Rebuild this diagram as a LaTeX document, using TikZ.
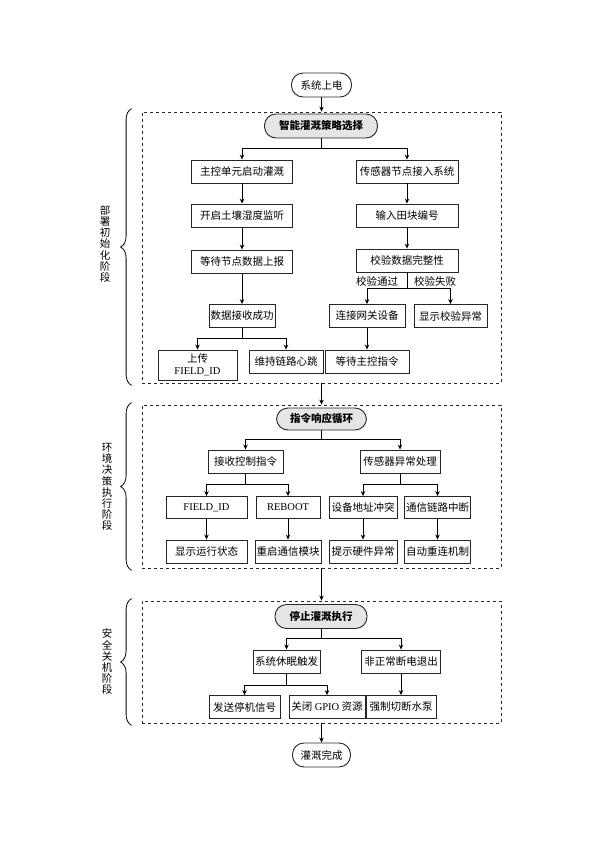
\documentclass[tikz,border=0pt]{standalone}
\usepackage{fontspec}
\setmainfont{Liberation Serif}
\newfontfamily\cjk{Noto Sans CJK SC}
\usetikzlibrary{arrows.meta,decorations.pathreplacing}
\newcommand{\lat}[1]{{\rmfamily #1}}

\begin{document}
\begin{tikzpicture}[x=1pt, y=-1pt, >={Stealth[length=5pt,width=4.5pt]}, font=\cjk\fontsize{10.5}{12}\selectfont]
    \tikzstyle{proc}=[draw=black!85, line width=0.9pt, rectangle, minimum height=23pt, inner xsep=1.5pt, align=center];
    \tikzstyle{term}=[draw=black!85, line width=0.9pt, rounded corners=11.5pt, minimum height=24pt, inner xsep=8pt];
    \tikzstyle{hub}=[term, fill=black!10, font=\cjk\bfseries\fontsize{10.5}{12}\selectfont];
    \tikzstyle{phase}=[draw=black!85, dashed, line width=0.8pt, rectangle];
    \tikzstyle{stage}=[align=center, font=\cjk\fontsize{10.5}{11.2}\selectfont];
    \tikzstyle{flow}=[draw, line width=0.8pt, ->];
    \tikzstyle{bracket}=[line width=0.8pt, decorate, decoration={brace, amplitude=11pt}];

    \useasboundingbox (0,0) rectangle (594,841);

    % deployment / init phase
    \node[term, minimum width=60] (power_on) at (321.5,85) {系统上电};
    \node[phase, minimum width=359, minimum height=271] (init_phase) at (321.5,247.5) {};
    \node[hub, minimum width=113] (strategy) at (321,126) {智能灌溉策略选择};
    \node[proc, minimum width=101] (main_start) at (242,171.5) {主控单元启动灌溉};
    \node[proc, minimum width=102] (sensor_join) at (407,171.5) {传感器节点接入系统};
    \node[proc, minimum width=101] (soil_listen) at (242,215.5) {开启土壤湿度监听};
    \node[proc, minimum width=102] (field_no) at (407,215.5) {输入田块编号};
    \node[proc, minimum width=101] (wait_report) at (242,261.5) {等待节点数据上报};
    \node[proc, minimum width=102] (check_data) at (407,260.5) {校验数据完整性};
    \node (pass_lbl) at (377,281.5) {校验通过};
    \node (fail_lbl) at (435,281.5) {校验失败};
    \node[proc, minimum width=66] (recv_ok) at (242,316) {数据接收成功};
    \node[proc, minimum width=76] (gateway) at (367,316) {连接网关设备};
    \node[proc, minimum width=73] (check_err) at (450.5,316) {显示校验异常};
    \node[proc, minimum width=79, minimum height=30] (upload) at (197.5,365) {上传\\\lat{FIELD\_ID}};
    \node[proc, minimum width=74] (heartbeat) at (286,361.5) {维持链路心跳};
    \node[proc, minimum width=84] (wait_cmd) at (367,361.5) {等待主控指令};

    \coordinate (br_a) at (0,148);
    \coordinate (br_b) at (0,288);
    \coordinate (br_c) at (0,338);

    \draw[flow] (power_on) -- (power_on |- init_phase.north);
    \draw[flow] (strategy.south) -- (strategy |- br_a) -| (main_start.north);
    \draw[flow] (strategy |- br_a) -| (sensor_join.north);
    \draw[flow] (main_start) -- (soil_listen);
    \draw[flow] (soil_listen) -- (wait_report);
    \draw[flow] (wait_report) -- (recv_ok);
    \draw[flow] (sensor_join) -- (field_no);
    \draw[flow] (field_no) -- (check_data);
    \draw[flow] (check_data.south) -- (check_data |- br_b) -| (gateway.north);
    \draw[flow] (check_data |- br_b) -| (check_err.north);
    \draw[flow] (recv_ok.south) -- (recv_ok |- br_c) -| (upload.north);
    \draw[flow] (recv_ok |- br_c) -| (heartbeat.north);
    \draw[flow] (gateway) -- (wait_cmd);

    % decision / execution phase
    \node[phase, minimum width=359, minimum height=163] (exec_phase) at (321.5,486.5) {};
    \node[hub, minimum width=90, minimum height=22] (cmd_loop) at (321.5,419) {指令响应循环};
    \node[proc, minimum width=75] (recv_cmd) at (245.5,461.5) {接收控制指令};
    \node[proc, minimum width=80] (sensor_err) at (400,461.5) {传感器异常处理};
    \node[proc, minimum width=81, minimum height=22] (field_id) at (206.5,507.5) {\lat{FIELD\_ID}};
    \node[proc, minimum width=64, minimum height=22] (reboot) at (288,507.5) {\lat{REBOOT}};
    \node[proc, minimum width=68, minimum height=22] (addr_conflict) at (363,507.5) {设备地址冲突};
    \node[proc, minimum width=65, minimum height=22] (link_down) at (437.5,507.5) {通信链路中断};
    \node[proc, minimum width=81] (show_state) at (206.5,551.5) {显示运行状态};
    \node[proc, minimum width=64] (restart_mod) at (288,551.5) {重启通信模块};
    \node[proc, minimum width=68] (hw_alert) at (363,551.5) {提示硬件异常};
    \node[proc, minimum width=65] (reconnect) at (437.5,551.5) {自动重连机制};

    \coordinate (br_d) at (0,439);
    \coordinate (br_e) at (0,484);

    \draw[flow] (init_phase.south) -- (exec_phase.north);
    \draw[flow] (cmd_loop.south) -- (cmd_loop |- br_d) -| (recv_cmd.north);
    \draw[flow] (cmd_loop |- br_d) -| (sensor_err.north);
    \draw[flow] (recv_cmd.south) -- (recv_cmd |- br_e) -| (field_id.north);
    \draw[flow] (recv_cmd |- br_e) -| (reboot.north);
    \draw[flow] (sensor_err.south) -- (sensor_err |- br_e) -| (addr_conflict.north);
    \draw[flow] (sensor_err |- br_e) -| (link_down.north);
    \draw[flow] (field_id) -- (show_state);
    \draw[flow] (reboot) -- (restart_mod);
    \draw[flow] (addr_conflict) -- (hw_alert);
    \draw[flow] (link_down) -- (reconnect);

    % shutdown phase
    \node[phase, minimum width=359, minimum height=122] (stop_phase) at (321.5,662) {};
    \node[hub, minimum width=92] (stop_irr) at (321,616.5) {停止灌溉执行};
    \node[proc, minimum width=67] (sleep_trig) at (286.5,661.5) {系统休眠触发};
    \node[proc, minimum width=79] (power_loss) at (401,661.5) {非正常断电退出};
    \node[proc, minimum width=71] (send_stop) at (244.5,707) {发送停机信号};
    \node[proc, minimum width=76] (gpio_off) at (327,707) {关闭 \lat{GPIO} 资源};
    \node[proc, minimum width=70] (cut_pump) at (401,707) {强制切断水泵};
    \node[term, minimum width=57] (done) at (321.5,755) {灌溉完成};

    \coordinate (br_f) at (0,638);
    \coordinate (br_g) at (0,685);

    \draw[flow] (exec_phase.south) -- (stop_phase.north);
    \draw[flow] (stop_irr.south) -- (stop_irr |- br_f) -| (sleep_trig.north);
    \draw[flow] (stop_irr |- br_f) -| (power_loss.north);
    \draw[flow] (sleep_trig.south) -- (sleep_trig |- br_g) -| (send_stop.north);
    \draw[flow] (sleep_trig |- br_g) -| (gpio_off.north);
    \draw[flow] (power_loss) -- (cut_pump);
    \draw[flow] (stop_phase.south) -- (done);

    % braces and stage names
    \draw[bracket] ([xshift=-10pt,yshift=-2pt]init_phase.south west) -- ([xshift=-10pt,yshift=3pt]init_phase.north west);
    \draw[bracket] ([xshift=-10pt,yshift=-2pt]exec_phase.south west) -- ([xshift=-10pt,yshift=2pt]exec_phase.north west);
    \draw[bracket] ([xshift=-10pt,yshift=-2pt]stop_phase.south west) -- ([xshift=-10pt,yshift=2pt]stop_phase.north west);
    \node[stage] (init_lbl) at (105,244) {部\\署\\初\\始\\化\\阶\\段};
    \node[stage] (exec_lbl) at (107,487) {环\\境\\决\\策\\执\\行\\阶\\段};
    \node[stage] (stop_lbl) at (107,662) {安\\全\\关\\机\\阶\\段};
\end{tikzpicture}
\end{document}
